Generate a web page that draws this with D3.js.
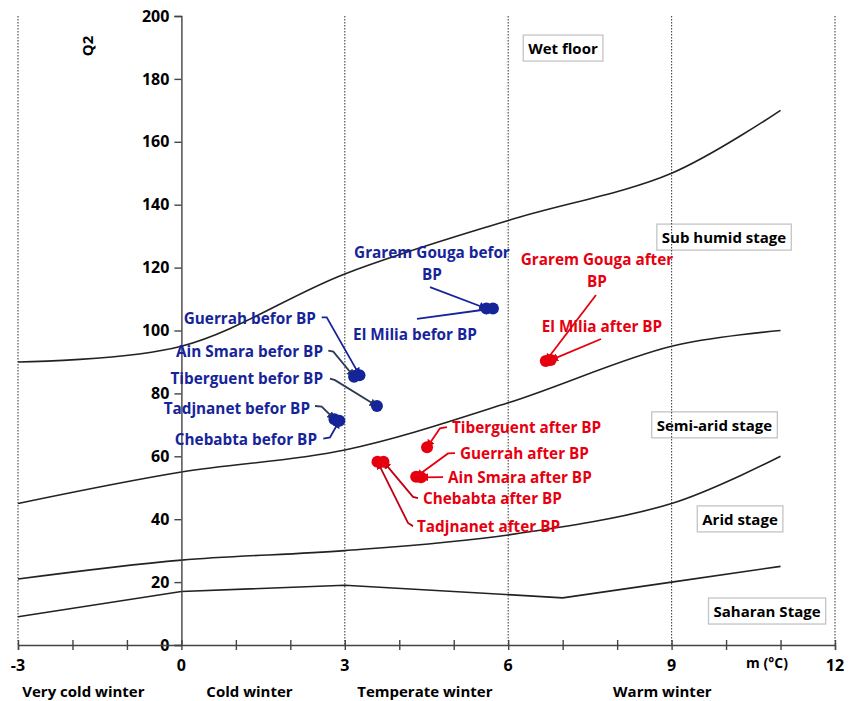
<!DOCTYPE html>
<html>
<head>
<meta charset="utf-8">
<script src="https://cdn.jsdelivr.net/npm/d3@7"></script>
<style>
  html, body { margin: 0; padding: 0; background: #fff; }
  svg { display: block; }
  text { font-family: "Open Sans", Lato, sans-serif; font-weight: 700; }
</style>
</head>
<body>
<svg id="chart" width="853" height="701"></svg>
<script>
// ---- Emberger climagram: axes ----
const mTicks = [-3, 0, 3, 6, 9, 12];
const mMinorTicks = [-3, -2, -1, 0, 1, 2, 3, 4, 5, 6, 7, 8, 9, 10, 11, 12];
const qTicks = [0, 20, 40, 60, 80, 100, 120, 140, 160, 180, 200];
const winterBands = ["Very cold winter", "Cold winter", "Temperate winter", "Warm winter"];
const winterBandCentres = [-1.8, 1.25, 4.47, 8.83];

// ---- Bioclimatic stage boundaries (Q2 against m) ----
const boundaryM = [-3, 0, 3, 6, 9, 11];
const humidBoundary = [90, 95, 118, 135, 150, 170];
const semiAridBoundary = [45, 55, 62, 77, 95, 100];
const aridBoundary = [21, 27, 30, 35, 45, 60];
const saharanM = [-3, 0, 3, 7, 9, 11];
const saharanBoundary = [9, 17, 19, 15, 20, 25];

const stageNames = ["Wet floor", "Sub humid stage", "Semi-arid stage", "Arid stage", "Saharan Stage"];
const stageM = [7.006, 9.962, 9.787, 10.256, 10.752];
const stageQ = [189.8, 129.7, 70.0, 40.1, 10.8];

// ---- Stations, before and after BP ----
const stations = ["Grarem Gouga", "El Milia", "Guerrah", "Ain Smara", "Tiberguent", "Tadjnanet", "Chebabta"];
const mBefore = [5.6, 5.72, 3.27, 3.17, 3.59, 2.81, 2.9];
const qBefore = [107, 107, 85.8, 85.3, 76, 71.8, 71.3];
const mAfter = [6.69, 6.78, 4.31, 4.4, 4.51, 3.6, 3.71];
const qAfter = [90.3, 90.6, 53.5, 53.3, 62.9, 58.3, 58.3];

// Callout placement for each label (in m / Q2 units): text anchor and leader knees
const calloutsBefore = [
  { lines: ["Grarem Gouga befor", "BP"], at: [4.60, 125.0], anchor: "middle", leader: [[4.564, 113.8]] },
  { lines: ["El Milia befor BP"], at: [4.289, 98.9], anchor: "middle", leader: [[4.325, 103.7]] },
  { lines: ["Guerrah befor BP"], at: [2.471, 104.0], anchor: "end", leader: [[2.576, 104.2], [2.668, 104.2]] },
  { lines: ["Ain Smara befor BP"], at: [2.600, 93.4], anchor: "end", leader: [[2.697, 93.6], [2.789, 93.3]], dark: true },
  { lines: ["Tiberguent befor BP"], at: [2.600, 84.9], anchor: "end", leader: [[2.728, 84.7], [2.820, 84.2]], dark: true },
  { lines: ["Tadjnanet befor BP"], at: [2.361, 75.4], anchor: "end", leader: [[2.453, 76.0], [2.576, 75.8]], dark: true },
  { lines: ["Chebabta befor BP"], at: [2.490, 65.6], anchor: "end", leader: [[2.605, 65.6], [2.728, 66.0]] }
];
const calloutsAfter = [
  { lines: ["Grarem Gouga after", "BP"], at: [7.630, 122.7], anchor: "middle", leader: [[7.612, 111.3]] },
  { lines: ["El Milia after BP"], at: [7.722, 101.4], anchor: "middle", leader: [[7.704, 97.3]] },
  { lines: ["Guerrah after BP"], at: [5.115, 61.0], anchor: "start", leader: [[5.023, 61.0], [4.895, 60.9]] },
  { lines: ["Ain Smara after BP"], at: [4.895, 53.4], anchor: "start", leader: [[4.803, 53.4]] },
  { lines: ["Tiberguent after BP"], at: [4.968, 69.3], anchor: "start", leader: [[4.876, 69.3], [4.748, 68.9]] },
  { lines: ["Tadjnanet after BP"], at: [4.325, 37.8], anchor: "start", leader: [[4.252, 37.8], [4.160, 38.8]], dark: true },
  { lines: ["Chebabta after BP"], at: [4.436, 46.7], anchor: "start", leader: [[4.344, 46.7], [4.252, 47.1]], dark: true }
];

const blue = "#16249a";
const blueDark = "#2b3b55";
const red = "#e6000f";
const redDark = "#c00010";

const svg = d3.select("#chart");
const x = d3.scaleLinear().domain([-3, 12]).range([18, 835]);
const y = d3.scaleLinear().domain([0, 200]).range([645, 16]);

// Arrowheads for the callout leaders
const defs = svg.append("defs");
[["blue", blue], ["blueDark", blueDark], ["red", red], ["redDark", redDark]].forEach(([id, c]) => {
  defs.append("marker").attr("id", "arr-" + id)
    .attr("viewBox", "0 0 10 10").attr("refX", 9).attr("refY", 5)
    .attr("markerWidth", 4.5).attr("markerHeight", 4.5).attr("orient", "auto")
    .append("path").attr("d", "M0,0 L10,5 L0,10 z").attr("fill", c);
});

// Stage boxes
stageNames.forEach((name, i) => {
  const g = svg.append("g");
  const t = g.append("text")
    .attr("x", x(stageM[i])).attr("y", y(stageQ[i]))
    .attr("text-anchor", "middle").attr("dominant-baseline", "central")
    .attr("font-size", 15).attr("fill", "#000").text(name);
  const bb = t.node().getBBox();
  g.insert("rect", "text")
    .attr("x", bb.x - 5).attr("y", bb.y - 3)
    .attr("width", bb.width + 10).attr("height", bb.height + 6)
    .attr("fill", "#fff").attr("stroke", "#c4c4c4").attr("stroke-width", 1.3);
});

// Vertical dotted lines for the winter classes
svg.append("g").selectAll("line")
  .data(mTicks.filter(d => d !== 0))
  .join("line")
  .attr("x1", d => x(d)).attr("x2", d => x(d))
  .attr("y1", y(200)).attr("y2", y(0))
  .attr("stroke", "#444").attr("stroke-width", 1.1)
  .attr("stroke-dasharray", "1.5,1.5");

// Boundary curves
const smooth = d3.line().x(d => x(d[0])).y(d => y(d[1])).curve(d3.curveCatmullRom.alpha(0.5));
const straight = d3.line().x(d => x(d[0])).y(d => y(d[1]));
[humidBoundary, semiAridBoundary, aridBoundary].forEach(vals => {
  svg.append("path")
    .attr("d", smooth(boundaryM.map((m, i) => [m, vals[i]])))
    .attr("fill", "none").attr("stroke", "#222").attr("stroke-width", 1.6);
});
svg.append("path")
  .attr("d", straight(saharanM.map((m, i) => [m, saharanBoundary[i]])))
  .attr("fill", "none").attr("stroke", "#222").attr("stroke-width", 1.6);

// Axes
const yAxis = svg.append("g").attr("transform", `translate(${x(0)},0)`)
  .call(d3.axisLeft(y).tickValues(qTicks).tickSize(7).tickPadding(5));
yAxis.select(".domain").attr("stroke", "#444").attr("stroke-width", 1.4);
yAxis.selectAll(".tick line").attr("stroke", "#444").attr("stroke-width", 1.4);
yAxis.selectAll(".tick text").attr("font-size", 16).attr("fill", "#000")
  .style("font-family", "'Open Sans', sans-serif").style("font-weight", 700);

const xAxis = svg.append("g").attr("transform", `translate(0,${y(0)})`)
  .call(d3.axisBottom(x).tickValues(mMinorTicks).tickSize(5).tickFormat(""));
xAxis.select(".domain").attr("stroke", "#444").attr("stroke-width", 1.4);
xAxis.selectAll(".tick line").attr("stroke", "#444").attr("stroke-width", 1.4).attr("y1", -5);

svg.append("g").selectAll("text")
  .data(mTicks).join("text")
  .attr("x", d => x(d)).attr("y", 671)
  .attr("text-anchor", "middle").attr("font-size", 16).text(d => d);

svg.append("text").attr("x", 767).attr("y", 668)
  .attr("text-anchor", "middle").attr("font-size", 14).text("m (°C)");

svg.append("text")
  .attr("transform", `translate(93,46) rotate(-90)`)
  .attr("text-anchor", "middle").attr("font-size", 15).text("Q2");

svg.append("g").selectAll("text")
  .data(winterBands).join("text")
  .attr("x", (d, i) => x(winterBandCentres[i])).attr("y", 697)
  .attr("text-anchor", "middle").attr("font-size", 15).text(d => d);

// Callouts and station points
function drawSeries(ms, qs, callouts, colour, dark, key) {
  const g = svg.append("g");
  callouts.forEach((c, i) => {
    const pts = c.leader.concat([[ms[i], qs[i]]]);
    g.append("path")
      .attr("d", straight(pts))
      .attr("fill", "none").attr("stroke", c.dark ? dark : colour).attr("stroke-width", 1.8)
      .attr("marker-end", `url(#arr-${c.dark ? key + "Dark" : key})`);
    const t = g.append("text")
      .attr("x", x(c.at[0])).attr("y", y(c.at[1]))
      .attr("text-anchor", c.anchor).attr("dominant-baseline", "central")
      .attr("font-size", 15.3).attr("fill", colour);
    c.lines.forEach((ln, k) => {
      t.append("tspan").attr("x", x(c.at[0])).attr("dy", k === 0 ? 0 : 22).text(ln);
    });
  });
  g.selectAll("circle")
    .data(ms.map((m, i) => [m, qs[i]]))
    .join("circle")
    .attr("cx", d => x(d[0])).attr("cy", d => y(d[1])).attr("r", 6)
    .attr("fill", colour);
}
drawSeries(mBefore, qBefore, calloutsBefore, blue, blueDark, "blue");
drawSeries(mAfter, qAfter, calloutsAfter, red, redDark, "red");
</script>
</body>
</html>
